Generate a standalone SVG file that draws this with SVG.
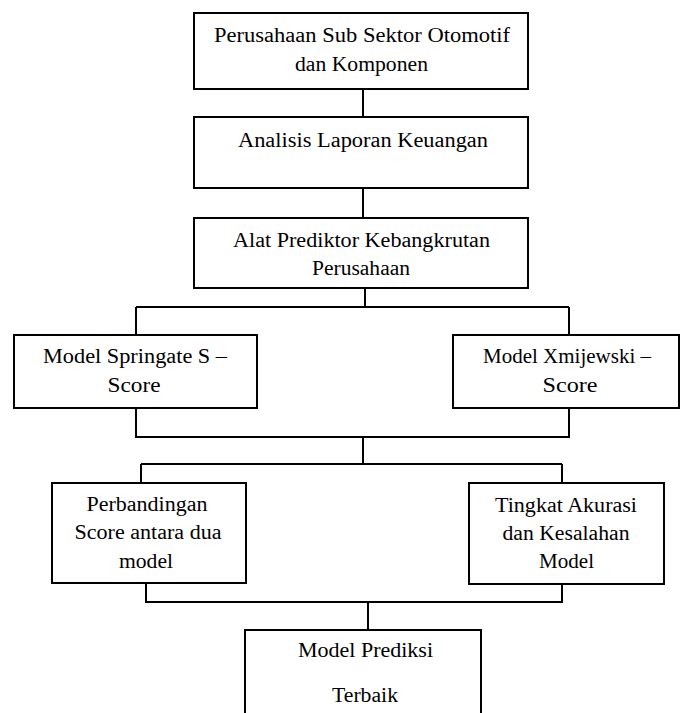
<svg xmlns="http://www.w3.org/2000/svg" width="681" height="713" viewBox="0 0 681 713">
<style>
.box{fill:#fff;stroke:#000;stroke-width:2}
.ln{fill:none;stroke:#000;stroke-width:2}
text{font-family:"Liberation Serif","Times New Roman",serif;font-size:20.5px;fill:#000;text-anchor:middle}
</style>
<rect width="681" height="713" fill="#fff"/>
<g id="connectors">
<path class="ln" d="M363 89V117"/>
<path class="ln" d="M363 188V218"/>
<path class="ln" d="M365 288V307M136 307H569M136 307V335M569 307V335"/>
<path class="ln" d="M136 408V437H569V408M363 437V464"/>
<path class="ln" d="M141 464H562M141 464V483M562 464V483"/>
<path class="ln" d="M146 583V602H562V584M368 602V630"/>
</g>
<g id="n1"><rect class="box" x="194" y="13" width="334" height="76"/><text x="362" y="42" textLength="296" lengthAdjust="spacingAndGlyphs">Perusahaan Sub Sektor Otomotif</text><text x="361.5" y="71" textLength="133" lengthAdjust="spacingAndGlyphs">dan Komponen</text></g>
<g id="n2"><rect class="box" x="194" y="117" width="334" height="71"/><text x="363" y="146.5" textLength="250" lengthAdjust="spacingAndGlyphs">Analisis Laporan Keuangan</text></g>
<g id="n3"><rect class="box" x="194" y="218" width="334" height="70"/><text x="361.5" y="246.5" textLength="257" lengthAdjust="spacingAndGlyphs">Alat Prediktor Kebangkrutan</text><text x="361" y="275" textLength="98" lengthAdjust="spacingAndGlyphs">Perusahaan</text></g>
<g id="n4"><rect class="box" x="14" y="335" width="243" height="73"/><text x="135" y="363" textLength="184" lengthAdjust="spacingAndGlyphs">Model Springate S –</text><text x="134" y="392" textLength="53" lengthAdjust="spacingAndGlyphs">Score</text></g>
<g id="n5"><rect class="box" x="453" y="335" width="226" height="73"/><text x="567" y="363" textLength="168" lengthAdjust="spacingAndGlyphs">Model Xmijewski –</text><text x="570" y="392" textLength="55" lengthAdjust="spacingAndGlyphs">Score</text></g>
<g id="n6"><rect class="box" x="52" y="483" width="194" height="100"/><text x="147" y="511" textLength="121" lengthAdjust="spacingAndGlyphs">Perbandingan</text><text x="148" y="539" textLength="147" lengthAdjust="spacingAndGlyphs">Score antara dua</text><text x="146" y="568" textLength="54" lengthAdjust="spacingAndGlyphs">model</text></g>
<g id="n7"><rect class="box" x="469" y="483" width="195" height="101"/><text x="566" y="512" textLength="142" lengthAdjust="spacingAndGlyphs">Tingkat Akurasi</text><text x="566" y="540" textLength="127" lengthAdjust="spacingAndGlyphs">dan Kesalahan</text><text x="566.5" y="568" textLength="55" lengthAdjust="spacingAndGlyphs">Model</text></g>
<g id="n8"><rect class="box" x="245" y="630" width="236" height="95"/><text x="365.5" y="657" textLength="135" lengthAdjust="spacingAndGlyphs">Model Prediksi</text><text x="365" y="702" textLength="66" lengthAdjust="spacingAndGlyphs">Terbaik</text></g>
</svg>
